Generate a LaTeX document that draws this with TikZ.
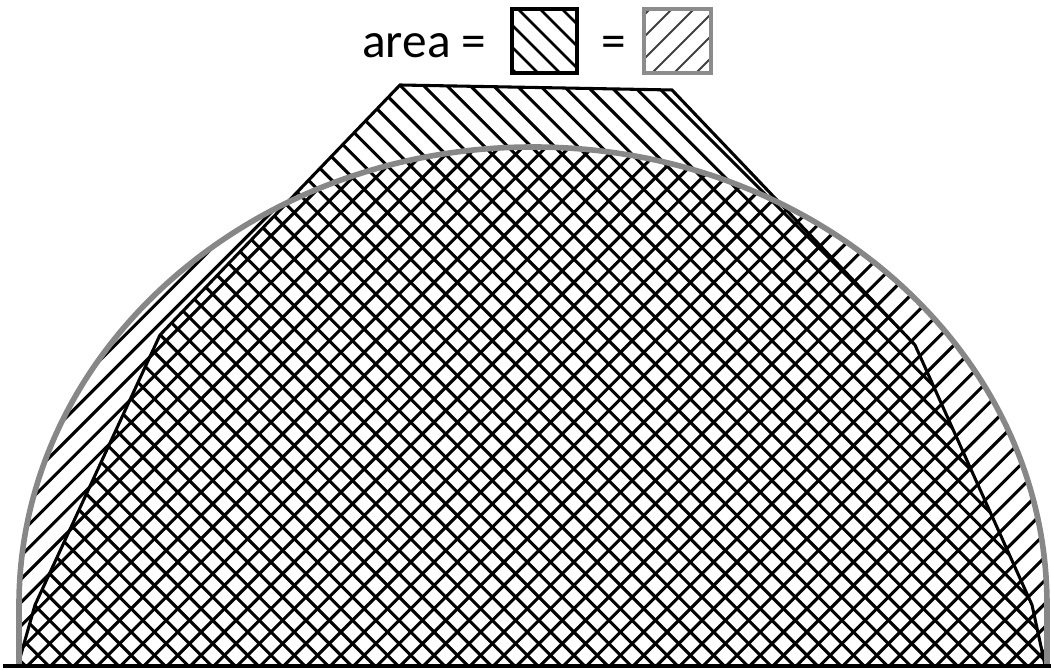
\documentclass[tikz,border=0pt]{standalone}
\usepackage{fontspec}
\setmainfont{Carlito}
\begin{document}
\begin{tikzpicture}[x=0.75pt,y=0.75pt,
  hatch/.style={line width=2.3pt,black},
  outline/.style={line width=2.3pt,black,line join=miter},
  circ/.style={line width=4.2pt,draw=black!47},
  lbl/.style={font=\fontsize{37}{40}\selectfont,inner sep=0pt,anchor=base west}]
\useasboundingbox (0,0) rectangle (1051,670);
% polygon hatch
\begin{scope}
\clip (18,5) -- (35,65) -- (160,335) -- (400,585) -- (672,580) -- (915,325) -- (1032,65) -- (1045,5) -- cycle;
\foreach \k in {-46,...,33} \draw[hatch] ({1008+\k*23.3-720},720) -- ({1008+\k*23.3},0);
\end{scope}
% circle hatch
\begin{scope}
\clip (0,5) rectangle (1051,670);
\clip (19,0) -- (19,65) arc[start angle=180,end angle=0,x radius=385.5pt,y radius=343.5pt] -- (1047,0) -- cycle;
\foreach \k in {-30,...,47} \draw[hatch] ({\k*23.3},0) -- ({\k*23.3+720},720);
\end{scope}
% polygon outline
\draw[outline] (18,5) -- (35,65) -- (160,335) -- (400,585) -- (672,580) -- (915,325) -- (1032,65) -- (1045,5);
% semicircle outline
\draw[circ] (19,5) -- (19,65) arc[start angle=180,end angle=0,x radius=385.5pt,y radius=343.5pt] -- (1047,5);
% base line
\draw[line width=3pt] (3,4) -- (1051,4);
% legend
\node[lbl] (area) at (362,612) {area =};
\node[lbl] (eq) at (601,612) {=};
\begin{scope}
\clip (512,597) rectangle (577,661);
\foreach \k in {-4,...,6} \draw[line width=2pt] ({512+\k*22+6},661) -- ({512+\k*22+76},591);
\end{scope}
\draw[line width=2.4pt] (512,597) rectangle (577,661);
\begin{scope}
\clip (644,597) rectangle (711,661);
\foreach \k in {-4,...,6} \draw[line width=1.4pt,black!75] ({644+\k*22+8},597) -- ({644+\k*22+78},667);
\end{scope}
\draw[line width=2.4pt,black!45] (644,597) rectangle (711,661);
\end{tikzpicture}
\end{document}
